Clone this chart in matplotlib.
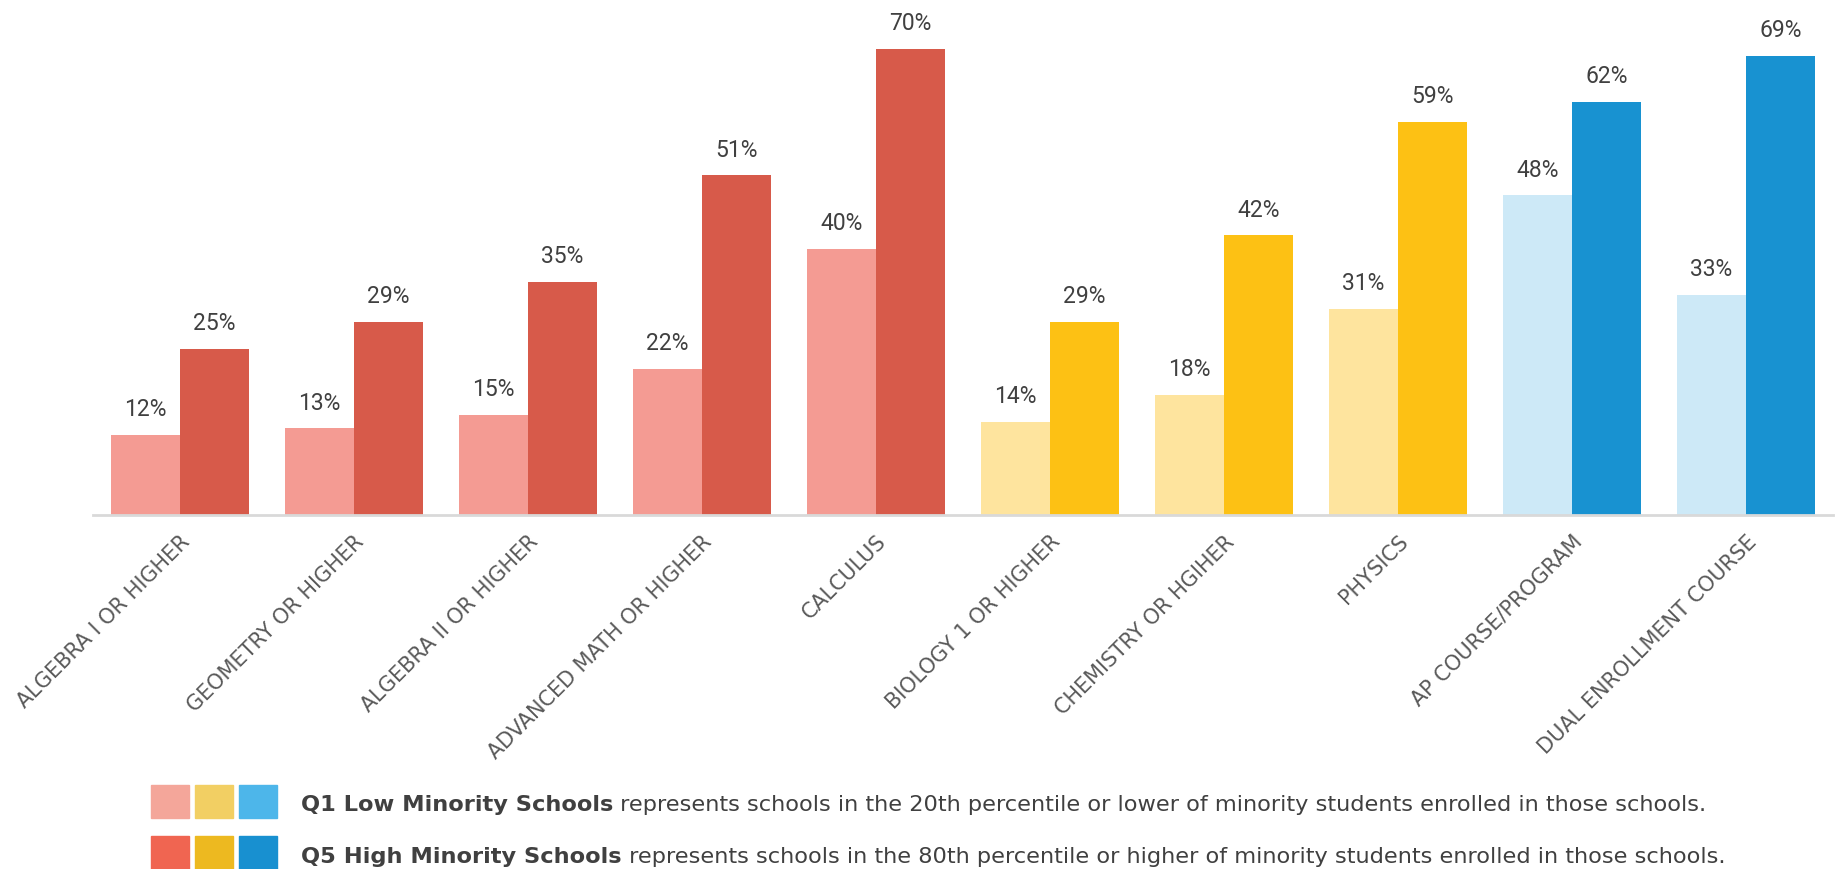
import matplotlib.pyplot as plt
from matplotlib.patches import Rectangle
import numpy as np

categories = ['ALGEBRA I OR HIGHER', 'GEOMETRY OR HIGHER', 'ALGEBRA II OR HIGHER',
              'ADVANCED MATH OR HIGHER', 'CALCULUS', 'BIOLOGY 1 OR HIGHER',
              'CHEMISTRY OR HGIHER', 'PHYSICS', 'AP COURSE/PROGRAM', 'DUAL ENROLLMENT COURSE']
q1_values = [12, 13, 15, 22, 40, 14, 18, 31, 48, 33]
q5_values = [25, 29, 35, 51, 70, 29, 42, 59, 62, 69]
# subject group of each category: 0 math, 1 science, 2 college prep
groups = [0, 0, 0, 0, 0, 1, 1, 1, 2, 2]

q1_colors = ['#F49B93', '#FEE49E', '#CDE9F7']
q5_colors = ['#D75A4A', '#FDC114', '#1892D1']
legend_q1 = ['#F4A69A', '#F2CF63', '#4DB6EA']
legend_q5 = ['#F06551', '#EDB920', '#1890D0']

W, H = 1835, 869
fig = plt.figure(figsize=(W / 100, H / 100), dpi=100)
ax = fig.add_axes([93 / W, 1 - 515 / H, (1833 - 93) / W, 515 / H])

x = np.arange(len(categories))
bw = 0.397
c1 = [q1_colors[g] for g in groups]
c5 = [q5_colors[g] for g in groups]
b1 = ax.bar(x - bw / 2, q1_values, bw, color=c1)
b5 = ax.bar(x + bw / 2, q5_values, bw, color=c5)

for bars, vals in ((b1, q1_values), (b5, q5_values)):
    for b, v in zip(bars, vals):
        ax.annotate(f'{v}%', (b.get_x() + b.get_width() / 2, v), xytext=(0, 10),
                    textcoords='offset points', ha='center', va='bottom',
                    fontsize=16.5, color='#404040', family='Roboto')

ax.set_xlim(-0.5, 9.5)
ax.set_ylim(0, 515 / 6.657)
ax.set_yticks([])
for s in ['top', 'right', 'left']:
    ax.spines[s].set_visible(False)
ax.spines['bottom'].set_color('#D9D9D9')
ax.spines['bottom'].set_linewidth(2)
ax.set_xticks(x)
ax.set_xticklabels(categories, rotation=45, ha='right', va='top', rotation_mode='anchor',
                   fontsize=15, color='#595959')
ax.tick_params(axis='x', length=0, pad=12)

# legend drawn by hand
rows = [(785, 803, legend_q1, 'Q1 Low Minority Schools',
         ' represents schools in the 20th percentile or lower of minority students enrolled in those schools.'),
        (836, 855, legend_q5, 'Q5 High Minority Schools',
         ' represents schools in the 80th percentile or higher of minority students enrolled in those schools.')]
for top, yc, cols, bold, rest in rows:
    for i, c in enumerate(cols):
        x0 = 151 + i * 44
        fig.patches.append(Rectangle((x0 / W, 1 - (top + 33) / H), 38 / W, 33 / H,
                                     transform=fig.transFigure, color=c))
    t = fig.text(301 / W, 1 - yc / H, bold, fontsize=16.2, fontweight='bold',
                 color='#404040', va='center_baseline')
    ax.annotate(rest, xy=(1, 0), xycoords=t, va='bottom', ha='left',
                fontsize=16.2, color='#404040', annotation_clip=False)

fig.savefig('out.png', dpi=100)
